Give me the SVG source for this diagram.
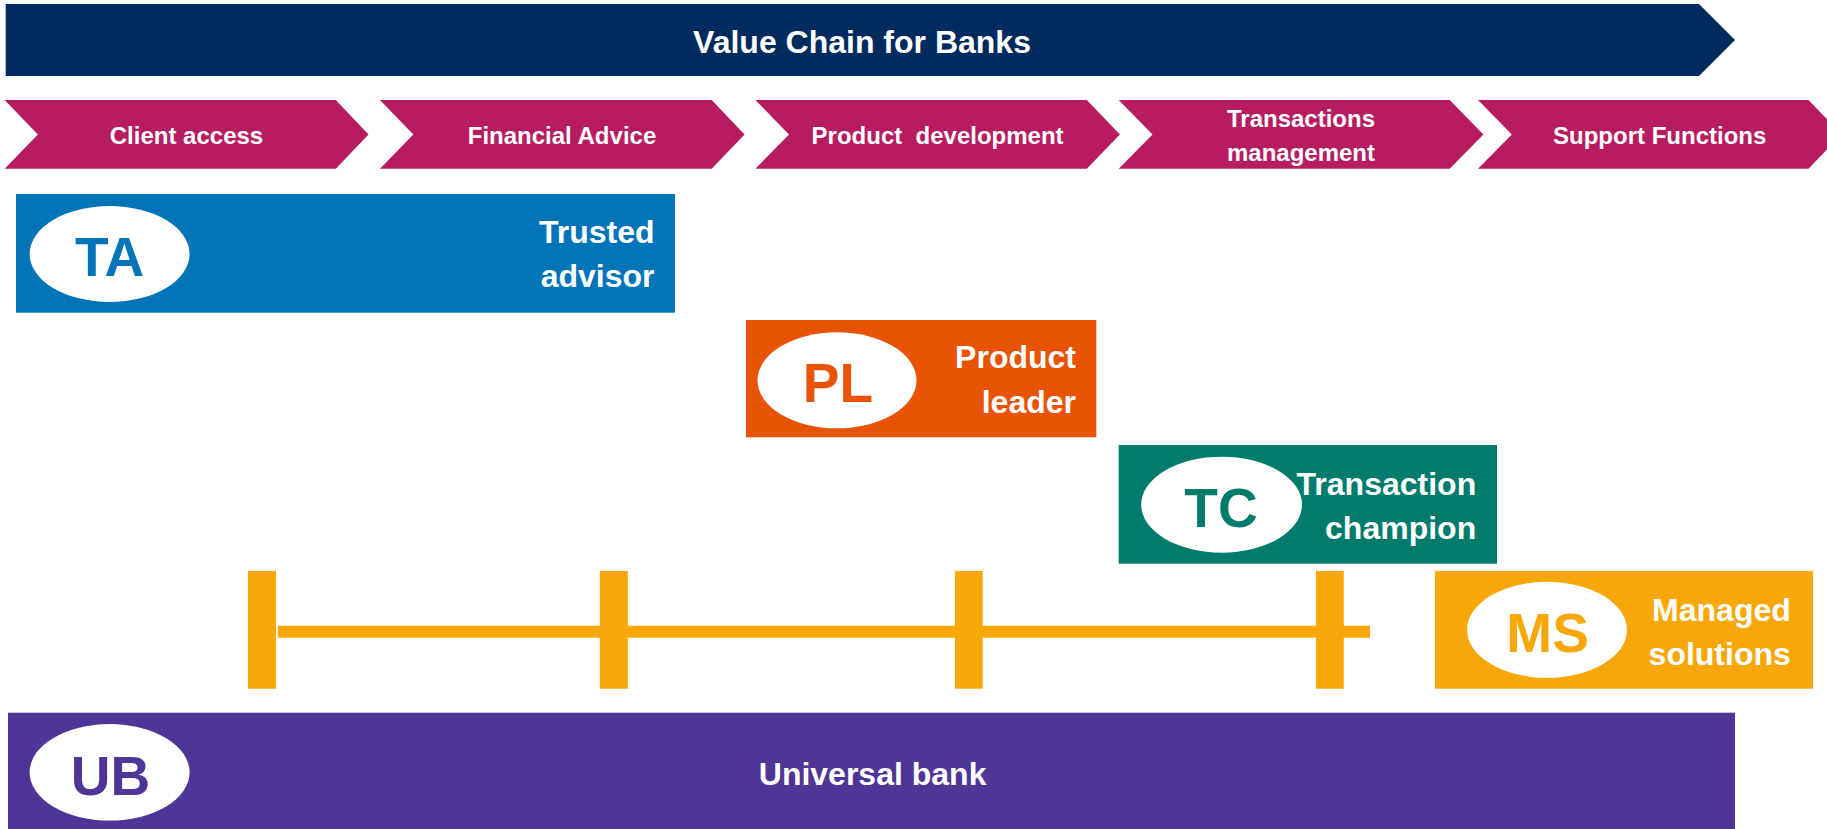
<svg xmlns="http://www.w3.org/2000/svg" width="1827" height="829" viewBox="0 0 1827 829">
<style>
text{font-family:"Liberation Sans",Arial,sans-serif;font-weight:bold;}
.w{fill:#ffffff;}
.chev{fill:#B71B60;}
.lbl{font-size:24px;text-anchor:middle;fill:#ffffff;}
.big{font-size:32px;fill:#ffffff;}
.r{text-anchor:end;}
.ab{font-size:55px;text-anchor:middle;}
.tl{fill:#F7A808;}
</style>
<rect width="1827" height="829" fill="#ffffff"/>
<g id="value-chain">
<path d="M5.7,4 L1699,4 L1735,40 L1699,76 L5.7,76 Z" fill="#012A5E"/>
<text class="big" x="862" y="52.5" text-anchor="middle">Value Chain for Banks</text>
</g>
<g id="client-access">
<path class="chev" d="M4.6,100 L335.8,100 L368.5,134.4 L335.8,168.7 L4.6,168.7 L37.9,134.4 Z"/>
<text class="lbl" x="186.5" y="143.5">Client access</text>
</g>
<g id="financial-advice">
<path class="chev" d="M380,100 L711.7,100 L744.5,134.4 L711.7,168.7 L380,168.7 L413.3,134.4 Z"/>
<text class="lbl" x="562" y="143.5">Financial Advice</text>
</g>
<g id="product-development">
<path class="chev" d="M755.4,100 L1086.8,100 L1119.9,134.4 L1086.8,168.7 L755.4,168.7 L789,134.4 Z"/>
<text class="lbl" x="937.6" y="143.5" xml:space="preserve">Product  development</text>
</g>
<g id="transactions-management">
<path class="chev" d="M1118.7,100 L1449.7,100 L1483.4,134.4 L1449.7,168.7 L1118.7,168.7 L1152.5,134.4 Z"/>
<text class="lbl" x="1301" y="126.7">Transactions</text>
<text class="lbl" x="1301" y="161.3">management</text>
</g>
<g id="support-functions">
<path class="chev" d="M1478,100 L1808.5,100 L1841.5,134.4 L1808.5,168.7 L1478,168.7 L1511.8,134.4 Z"/>
<text class="lbl" x="1659.7" y="143.5">Support Functions</text>
</g>
<g id="trusted-advisor">
<rect x="16" y="194" width="659" height="118.7" fill="#0474B8"/>
<ellipse class="w" cx="109.6" cy="254" rx="80" ry="48"/>
<text class="ab" x="109.6" y="276" fill="#0474B8">TA</text>
<text class="big r" x="654.5" y="243.3">Trusted</text>
<text class="big r" x="654.5" y="287.3">advisor</text>
</g>
<g id="product-leader">
<rect x="746" y="320" width="350.3" height="117.3" fill="#E85306"/>
<ellipse class="w" cx="837" cy="380.3" rx="79.5" ry="48"/>
<text class="ab" x="838" y="401.7" fill="#E85306">PL</text>
<text class="big r" x="1076" y="368.3">Product</text>
<text class="big r" x="1076" y="413.3">leader</text>
</g>
<g id="transaction-champion">
<rect x="1118.7" y="445" width="378.3" height="118.7" fill="#017B6C"/>
<ellipse class="w" cx="1221.6" cy="504.7" rx="80.4" ry="48"/>
<text class="ab" x="1221" y="526.7" fill="#017B6C">TC</text>
<text class="big r" x="1476.2" y="495">Transaction</text>
<text class="big r" x="1476.2" y="539.3">champion</text>
</g>
<g id="managed-solutions">
<rect x="1435" y="571" width="378" height="117.7" fill="#F7A808"/>
<ellipse class="w" cx="1547" cy="629.8" rx="80" ry="48"/>
<text class="ab" x="1547.6" y="652.3" fill="#F7A808">MS</text>
<text class="big r" x="1790.8" y="621">Managed</text>
<text class="big r" x="1790.8" y="665">solutions</text>
</g>
<g id="universal-bank">
<rect x="8" y="712.7" width="1727" height="116.3" fill="#4F3596"/>
<ellipse class="w" cx="109.6" cy="772.3" rx="80" ry="48.3"/>
<text class="ab" x="110.5" y="795" fill="#4F3596">UB</text>
<text class="big" x="872.6" y="785" text-anchor="middle">Universal bank</text>
</g>
<g id="connectors">
<rect class="tl" x="277.8" y="625.7" width="1092.2" height="12"/>
<rect class="tl" x="248" y="571" width="28" height="117.7"/>
<rect class="tl" x="599.8" y="571" width="28" height="117.7"/>
<rect class="tl" x="955" y="571" width="27.7" height="117.7"/>
<rect class="tl" x="1316" y="571" width="27.8" height="117.7"/>
</g>
</svg>
